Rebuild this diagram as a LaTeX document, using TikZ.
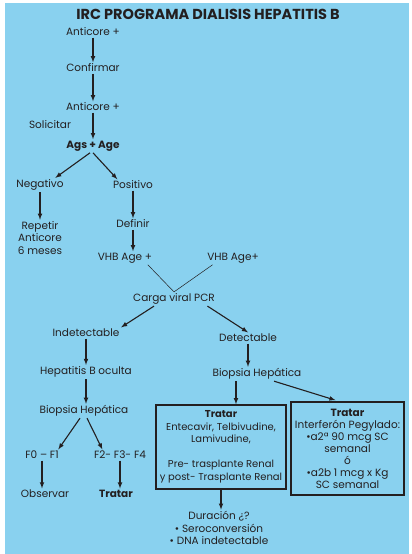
\documentclass[tikz,border=0pt]{standalone}
\usepackage{fontspec}
\setmainfont{Poppins}
\usepackage{xcolor}
\usetikzlibrary{arrows, positioning}

\definecolor{fondo}{RGB}{137,209,239}
\definecolor{tinta}{RGB}{35,31,32}

\tikzset{
    txt/.style={inner sep=1.5pt, text=tinta, font=\fontsize{10.5}{12.5}\selectfont, align=center},
    caja/.style={txt, draw=tinta, line width=1.6pt, inner sep=0pt},
    flecha/.style={-latex, line width=1.1pt, draw=tinta},
    linea/.style={line width=0.5pt, draw=tinta}
}

\begin{document}
\begin{tikzpicture}[x=1pt, y=-1pt]
                        \fill[fondo] (5, 3) rectangle (409, 554);
                        \useasboundingbox (0, 0) rectangle (412, 554);
                        \node[txt, font=\fontsize{14.5}{16}\selectfont\bfseries] (titulo) at (208, 14) {IRC PROGRAMA DIALISIS HEPATITIS B};
                        \node[txt] (anti1) at (93, 32) {Anticore +};
                        \node[txt] (conf) at (93, 68) {Confirmar};
                        \node[txt] (anti2) at (93, 107) {Anticore +};
                        \node[txt] (solic) at (50, 125) {Solicitar};
                        \node[txt, font=\fontsize{10.5}{12.5}\selectfont\bfseries] (ags) at (93, 146) {Ags + Age};
                        \node[txt] (neg) at (40, 185) {Negativo};
                        \node[txt] (pos) at (133, 185) {Positivo};
                        \node[txt] (rep) at (40, 238) {Repetir\\Anticore\\6 meses};
                        \node[txt] (defi) at (133, 224) {Definir};
                        \node[txt] (vhb1) at (125, 258) {VHB Age +};
                        \node[txt] (vhb2) at (233, 258) {VHB Age+};
                        \node[txt] (carga) at (174, 299) {Carga viral PCR};
                        \node[txt] (indet) at (86, 333) {Indetectable};
                        \node[txt] (det) at (248, 338) {Detectable};
                        \node[txt] (oculta) at (86, 372) {Hepatitis B oculta};
                        \node[txt] (biopR) at (257, 374) {Biopsia Hepática};
                        \node[txt] (biopL) at (84, 411) {Biopsia Hepática};
                        \node[txt] (f01) at (42, 455) {F0 – F1};
                        \node[txt] (f24) at (120, 455) {F2- F3- F4};
                        \node[txt] (obs) at (45, 494) {Observar};
                        \node[txt, font=\fontsize{10.5}{12.5}\selectfont\bfseries] (trat) at (116, 494) {Tratar};
                        \node[caja, minimum width=130pt, minimum height=84pt, font=\fontsize{10}{12.5}\selectfont] (box1) at (221, 447)
                            {\textbf{Tratar}\\Entecavir, Telbivudine,\\Lamivudine,\\[12.5pt]Pre- trasplante Renal\\y post- Trasplante Renal};
                        \node[caja, minimum width=113pt, minimum height=93pt, font=\fontsize{10.5}{12}\selectfont] (box2) at (347.5, 448.5)
                            {\textbf{Tratar}\\Interferón Pegylado:\\•a2ª 90 mcg SC\\semanal\\ó\\•a2b 1 mcg x Kg\\SC semanal};
                        \node[txt] (dur) at (219, 528) {Duración ¿?\\• Seroconversión\\• DNA indetectable};
                        \draw
                        (anti1) edge[flecha] (conf)
                        (conf) edge[flecha] (anti2)
                        (anti2) edge[flecha] (ags)
                        ([xshift=-3pt]ags.south) edge[flecha] ([xshift=-10pt]neg.north east)
                        (ags.south) edge[flecha] ([xshift=6pt]pos.north west)
                        (neg) edge[flecha] (rep)
                        (pos) edge[flecha] (defi)
                        (defi.south) edge[flecha] (defi.south |- vhb1.north)
                        ([xshift=-6pt]vhb1.south east) edge[linea] (carga.north)
                        ([xshift=7pt]vhb2.south west) edge[linea] (carga.north)
                        ([xshift=-20pt]carga.south) edge[flecha] (indet.north east)
                        ([xshift=-9pt]carga.south east) edge[flecha] (det.north)
                        (indet) edge[flecha] (oculta)
                        (oculta.south) edge[flecha] (oculta.south |- biopL.north)
                        (det.south) edge[flecha] (det.south |- biopR.north)
                        ([xshift=25pt]biopR.south west) edge[flecha] ([xshift=25pt]biopR.south west |- box1.north)
                        ([xshift=-29pt]biopR.south east) edge[flecha] ([xshift=-12pt, yshift=1pt]box2.north)
                        ([xshift=-4pt]biopL.south) edge[flecha] ([xshift=-2pt]f01.north east)
                        ([xshift=3pt]biopL.south) edge[flecha] ([xshift=10pt]f24.north west)
                        (f01.south) edge[flecha] (f01.south |- obs.north)
                        (f24.south) edge[flecha] (f24.south |- trat.north)
                        (box1.south) edge[flecha] (box1.south |- dur.north);
                    \end{tikzpicture}
\end{document}
